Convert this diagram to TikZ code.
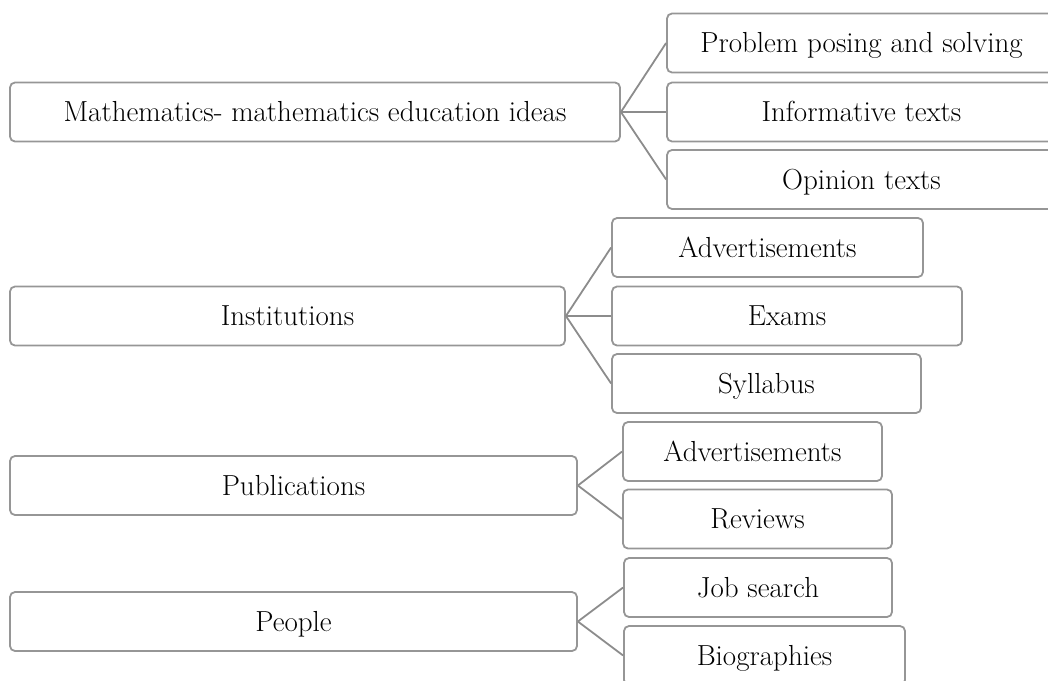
\documentclass[tikz,border=0pt]{standalone}
\usepackage{fontspec}
\definecolor{boxg}{RGB}{150,150,150}
\definecolor{lineg}{RGB}{140,140,140}
\begin{document}
\begin{tikzpicture}[x=1pt,y=-1pt,
  bx/.style={draw=boxg, line width=1.8pt, rounded corners=5pt, inner sep=0pt,
    font=\fontsize{29}{34}\selectfont, text height=19.8pt, text depth=0pt,
    minimum height=59pt, anchor=center},
  cn/.style={draw=lineg, line width=1.8pt}]
\useasboundingbox (0,0) rectangle (1048,680);
\clip (0,0) rectangle (1048,680);
% group 1
\node[bx, minimum width=610pt] (m1) at (315,112) {Mathematics- mathematics education ideas};
\node[bx, minimum width=389pt] (c1a) at (861.5,43) {Problem posing and solving};
\node[bx, minimum width=389pt] (c1b) at (861.5,112) {Informative texts};
\node[bx, minimum width=389pt] (c1c) at (861.5,179.5) {Opinion texts};
% group 2
\node[bx, minimum width=555pt] (m2) at (287.5,316) {Institutions};
\node[bx, minimum width=311pt] (c2a) at (767.5,247.5) {Advertisements};
\node[bx, minimum width=350pt] (c2b) at (787,316) {Exams};
\node[bx, minimum width=309pt] (c2c) at (766.5,383.5) {Syllabus};
% group 3
\node[bx, minimum width=567pt] (m3) at (293.5,485.5) {Publications};
\node[bx, minimum width=259pt] (c3a) at (752.5,451.5) {Advertisements};
\node[bx, minimum width=269pt] (c3b) at (757.5,519) {Reviews};
% group 4
\node[bx, minimum width=567pt] (m4) at (293.5,621.5) {People};
\node[bx, minimum width=268pt] (c4a) at (758,587.5) {Job search};
\node[bx, minimum width=281pt] (c4b) at (764.5,655.5) {Biographies};
% connectors
\draw[cn] (m1.east) -- (c1a.west);
\draw[cn] (m1.east) -- (c1b.west);
\draw[cn] (m1.east) -- (c1c.west);
\draw[cn] (m2.east) -- (c2a.west);
\draw[cn] (m2.east) -- (c2b.west);
\draw[cn] (m2.east) -- (c2c.west);
\draw[cn] (m3.east) -- (c3a.west);
\draw[cn] (m3.east) -- (c3b.west);
\draw[cn] (m4.east) -- (c4a.west);
\draw[cn] (m4.east) -- (c4b.west);
\end{tikzpicture}
\end{document}
